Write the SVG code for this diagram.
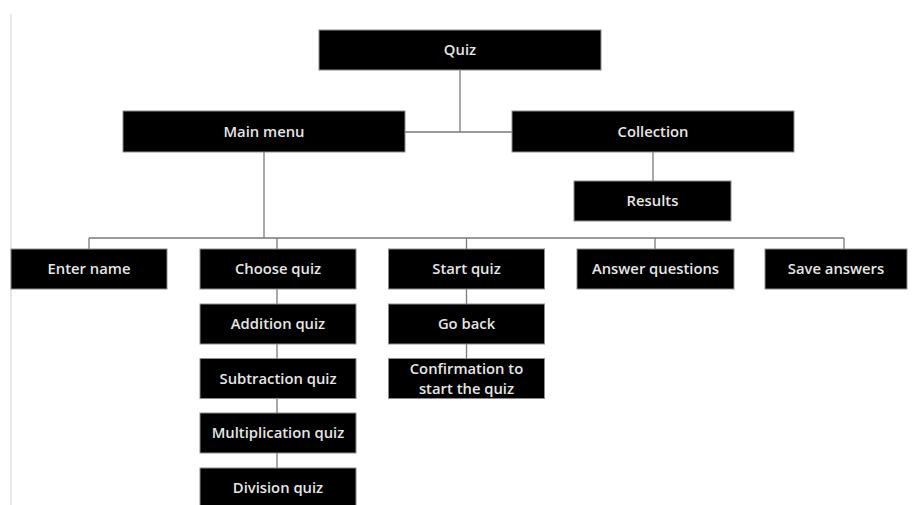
<svg xmlns="http://www.w3.org/2000/svg" width="913" height="505" viewBox="0 0 913 505">
<style>
.box{fill:#000;stroke:#8c8c8c;stroke-width:1}
.lbl{fill:#e6e6e6;font-family:"Open Sans","Noto Sans","Liberation Sans",sans-serif;font-weight:600;font-size:14.8px;text-anchor:middle;dominant-baseline:central}
.con{stroke:#7a7a7a;stroke-width:1.3;fill:none}
</style>
<rect width="913" height="505" fill="#fff"/>
<line x1="11" y1="14" x2="11" y2="505" stroke="#e2e2e2" stroke-width="1.5"/>
<g id="connectors">
<path class="con" d="M460 70V132M405 132H512M264 152V238M89 238H844M89 238V249M277 238V249M466.5 238V249M655 238V249M844 238V249M653 152V181M277 289V304M277 344V358M277 399V413M277 453V468M466.5 289V304M466.5 344V358"/>
</g>
<g id="quiz"><rect class="box" x="319" y="30" width="282" height="40"/><text class="lbl" x="460" y="49">Quiz</text></g>
<g id="main-menu"><rect class="box" x="123" y="111" width="282" height="41"/><text class="lbl" x="264" y="130.5">Main menu</text></g>
<g id="collection"><rect class="box" x="512" y="111" width="282" height="41"/><text class="lbl" x="653" y="130.5">Collection</text></g>
<g id="results"><rect class="box" x="574" y="181" width="157" height="40"/><text class="lbl" x="652.5" y="200">Results</text></g>
<g id="enter-name"><rect class="box" x="11" y="249" width="156" height="40"/><text class="lbl" x="89" y="268">Enter name</text></g>
<g id="choose-quiz"><rect class="box" x="200" y="249" width="156" height="40"/><text class="lbl" x="278" y="268">Choose quiz</text></g>
<g id="start-quiz"><rect class="box" x="388.5" y="249" width="156" height="40"/><text class="lbl" x="466.5" y="268">Start quiz</text></g>
<g id="answer-questions"><rect class="box" x="577" y="249" width="157" height="40"/><text class="lbl" x="655.5" y="268">Answer questions</text></g>
<g id="save-answers"><rect class="box" x="765" y="249" width="142" height="40"/><text class="lbl" x="836" y="268">Save answers</text></g>
<g id="addition-quiz"><rect class="box" x="200" y="304" width="156" height="40"/><text class="lbl" x="278" y="323">Addition quiz</text></g>
<g id="subtraction-quiz"><rect class="box" x="200" y="358.5" width="156" height="40"/><text class="lbl" x="278" y="377.5">Subtraction quiz</text></g>
<g id="multiplication-quiz"><rect class="box" x="200" y="413" width="156" height="40"/><text class="lbl" x="278" y="432">Multiplication quiz</text></g>
<g id="division-quiz"><rect class="box" x="200" y="468" width="156" height="42"/><text class="lbl" x="278" y="487">Division quiz</text></g>
<g id="go-back"><rect class="box" x="388.5" y="304" width="156" height="40"/><text class="lbl" x="466.5" y="323">Go back</text></g>
<g id="confirmation"><rect class="box" x="388.5" y="358.5" width="156" height="40"/><text class="lbl" x="466.5" y="368">Confirmation to</text><text class="lbl" x="466.5" y="388">start the quiz</text></g>
</svg>
